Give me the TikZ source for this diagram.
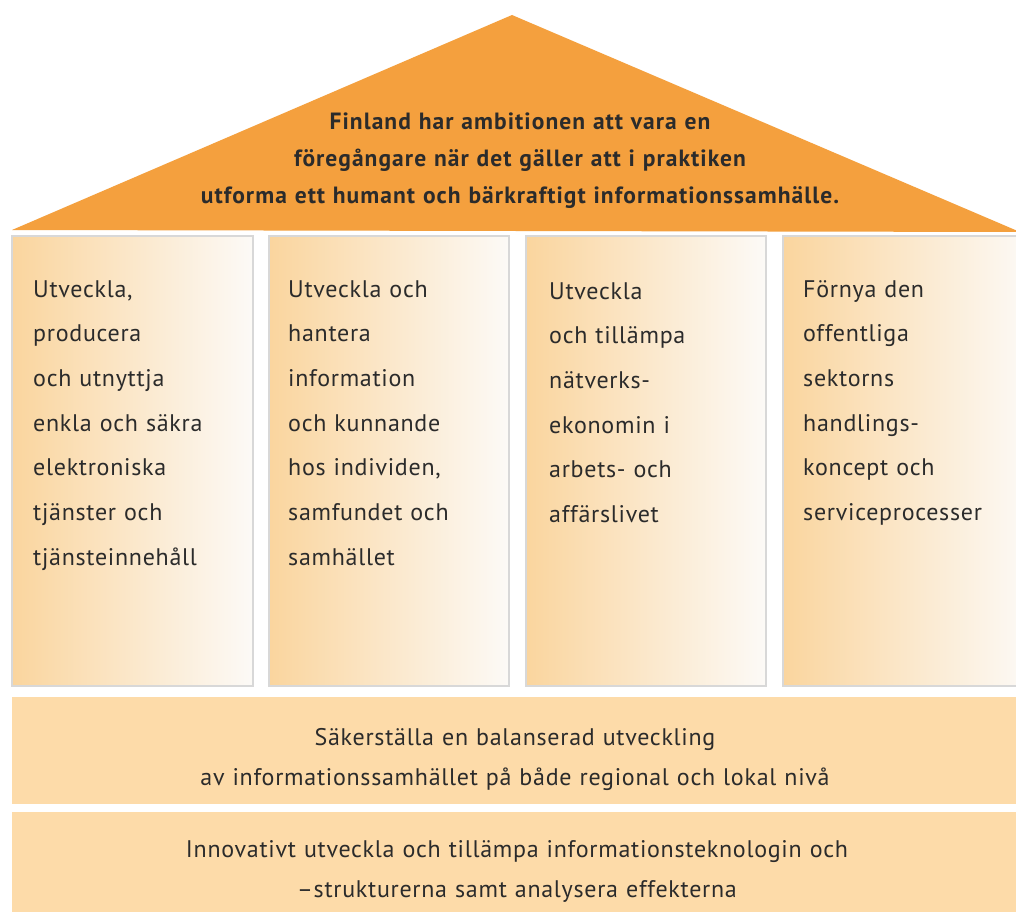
\documentclass[tikz,border=0pt]{standalone}
\usepackage{fontspec}
\setmainfont{PT Sans}[LetterSpace=3]
\newfontfamily\rooffont{PT Sans}[LetterSpace=4.5]
\begin{document}
\begin{tikzpicture}[x=1pt,y=-1pt,
  pillar/.style={left color=pilL, right color=pilR, draw=pilB, line width=1.5pt},
  pilltext/.style={anchor=base west, inner sep=0pt, text width=230pt, align=left,
     text=txt, font=\fontsize{24}{44.7}\selectfont},
  roofttext/.style={anchor=base, inner sep=0pt, text width=850pt, align=center,
     text=txt, font=\rooffont\bfseries\fontsize{23.5}{37}\selectfont},
  bandtext/.style={anchor=base, inner sep=0pt, text width=950pt, align=center,
     text=txt, font=\fontsize{24}{40}\selectfont}]
\definecolor{roof}{HTML}{F4A03E}
\definecolor{pilL}{HTML}{FAD59E}
\definecolor{pilR}{HTML}{FCFAF7}
\definecolor{pilB}{HTML}{D8D8D8}
\definecolor{bandc}{HTML}{FDDBA9}
\definecolor{txt}{HTML}{2B2B2B}
\useasboundingbox[fill=white] (0,0) rectangle (1016,912);
% roof
\coordinate (apex) at (512,15);
\coordinate (rl) at (12,230);
\coordinate (rr) at (1020,232);
\fill[roof] (rl) -- (apex) -- (rr) -- cycle;
\node[roofttext] (rooft) at (520,130) {Finland har ambitionen att vara en\\
föregångare när det gäller att i praktiken\\
utforma ett humant och bärkraftigt informationssamhälle.};
% pillars
\begin{scope}
\clip (0,0) rectangle (1016,912);
\shade[pillar] (12,236) rectangle (253,686);
\shade[pillar] (269,236) rectangle (509,686);
\shade[pillar] (526,236) rectangle (766,686);
\shade[pillar] (783,236) rectangle (1030,686);
\end{scope}
\node[pilltext] (p1) at (33,297) {Utveckla,\\producera\\och utnyttja\\enkla och säkra\\elektroniska\\tjänster och\\tjänsteinnehåll};
\node[pilltext] (p2) at (288,297) {Utveckla och\\hantera\\information\\och kunnande\\hos individen,\\samfundet och\\samhället};
\node[pilltext] (p3) at (549,299) {Utveckla\\och tillämpa\\nätverks-\\ekonomin i\\arbets- och\\affärslivet};
\node[pilltext] (p4) at (803,297) {Förnya den\\offentliga\\sektorns\\handlings-\\koncept och\\serviceprocesser};
% bands
\fill[bandc] (12,697) rectangle (1016,804);
\fill[bandc] (12,812) rectangle (1016,912);
\node[bandtext] (b1) at (515,745) {Säkerställa en balanserad utveckling\\av informationssamhället på både regional och lokal nivå};
\node[bandtext] (b2) at (517,857) {Innovativt utveckla och tillämpa informationsteknologin och\\--strukturerna samt analysera effekterna};
\end{tikzpicture}
\end{document}
